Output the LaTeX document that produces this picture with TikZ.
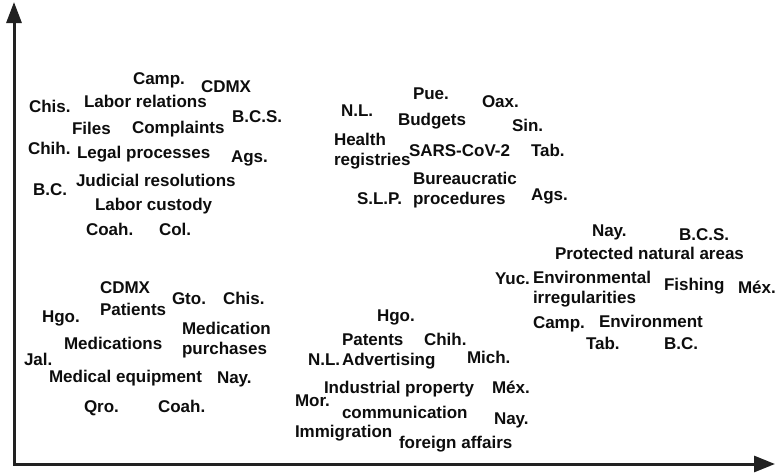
\documentclass[tikz,border=0pt]{standalone}
\usepackage{fontspec}
\setmainfont{Liberation Sans}
\usetikzlibrary{arrows.meta}
\begin{document}
\begin{tikzpicture}[x=1pt,y=-1pt,
  lbl/.style={anchor=base west,inner sep=0pt,outer sep=0pt,text=black!95,
    font=\fontsize{17}{20}\selectfont\bfseries},
  axis/.style={line width=3pt,draw=black!87,line join=miter}]
\useasboundingbox (0,0) rectangle (777,472);
\coordinate (origin) at (14,464);
\coordinate (ytip) at (14,2);
\coordinate (xtip) at (775,464);
\draw[axis,{Triangle[length=21pt,width=15pt]}-{Triangle[length=21pt,width=16pt]}] (ytip) -- (origin) -- (xtip);
% top-left cluster
\node[lbl] (a1) at (133,84) {Camp.};
\node[lbl] (a2) at (201,92) {CDMX};
\node[lbl] (a3) at (29,112) {Chis.};
\node[lbl] (a4) at (84,107) {Labor relations};
\node[lbl] (a5) at (232,122) {B.C.S.};
\node[lbl] (a6) at (72,134) {Files};
\node[lbl] (a7) at (132,133) {Complaints};
\node[lbl] (a8) at (28,154) {Chih.};
\node[lbl] (a9) at (77,158) {Legal processes};
\node[lbl] (a10) at (231,162) {Ags.};
\node[lbl] (a11) at (33,195) {B.C.};
\node[lbl] (a12) at (76,186) {Judicial resolutions};
\node[lbl] (a13) at (95,210) {Labor custody};
\node[lbl] (a14) at (86,235) {Coah.};
\node[lbl] (a15) at (159,235) {Col.};
% top-middle cluster
\node[lbl] (b1) at (413,99) {Pue.};
\node[lbl] (b2) at (482,107) {Oax.};
\node[lbl] (b3) at (341,116) {N.L.};
\node[lbl] (b4) at (398,125) {Budgets};
\node[lbl] (b5) at (512,131) {Sin.};
\node[lbl] (b6) at (334,145) {Health};
\node[lbl] (b6b) at (334,165) {registries};
\node[lbl] (b7) at (409,156) {SARS-CoV-2};
\node[lbl] (b8) at (531,156) {Tab.};
\node[lbl] (b9) at (413,184) {Bureaucratic};
\node[lbl] (b9b) at (413,204) {procedures};
\node[lbl] (b10) at (357,204) {S.L.P.};
\node[lbl] (b11) at (531,200) {Ags.};
% right cluster
\node[lbl] (c1) at (592,236) {Nay.};
\node[lbl] (c2) at (679,240) {B.C.S.};
\node[lbl] (c3) at (555,259) {Protected natural areas};
\node[lbl] (c4) at (495,284) {Yuc.};
\node[lbl] (c5) at (533,283) {Environmental};
\node[lbl] (c5b) at (533,303) {irregularities};
\node[lbl] (c6) at (664,290) {Fishing};
\node[lbl] (c7) at (738,293) {Méx.};
\node[lbl] (c8) at (533,328) {Camp.};
\node[lbl] (c9) at (599,327) {Environment};
\node[lbl] (c10) at (586,349) {Tab.};
\node[lbl] (c11) at (664,349) {B.C.};
% bottom-left cluster
\node[lbl] (d1) at (100,293) {CDMX};
\node[lbl] (d2) at (172,304) {Gto.};
\node[lbl] (d3) at (223,304) {Chis.};
\node[lbl] (d4) at (42,322) {Hgo.};
\node[lbl] (d5) at (100,315) {Patients};
\node[lbl] (d6) at (182,334) {Medication};
\node[lbl] (d6b) at (182,354) {purchases};
\node[lbl] (d7) at (64,349) {Medications};
\node[lbl] (d8) at (24,365) {Jal.};
\node[lbl] (d9) at (49,382) {Medical equipment};
\node[lbl] (d10) at (217,383) {Nay.};
\node[lbl] (d11) at (84,412) {Qro.};
\node[lbl] (d12) at (158,412) {Coah.};
% bottom-middle cluster
\node[lbl] (e1) at (377,321) {Hgo.};
\node[lbl] (e2) at (342,345) {Patents};
\node[lbl] (e3) at (424,345) {Chih.};
\node[lbl] (e4) at (308,365) {N.L.};
\node[lbl] (e5) at (342,365) {Advertising};
\node[lbl] (e6) at (467,363) {Mich.};
\node[lbl] (e7) at (324,393) {Industrial property};
\node[lbl] (e8) at (492,393) {Méx.};
\node[lbl] (e9) at (295,406) {Mor.};
\node[lbl] (e10) at (342,418) {communication};
\node[lbl] (e11) at (494,424) {Nay.};
\node[lbl] (e12) at (295,437) {Immigration};
\node[lbl] (e13) at (399,448) {foreign affairs};
\end{tikzpicture}
\end{document}
